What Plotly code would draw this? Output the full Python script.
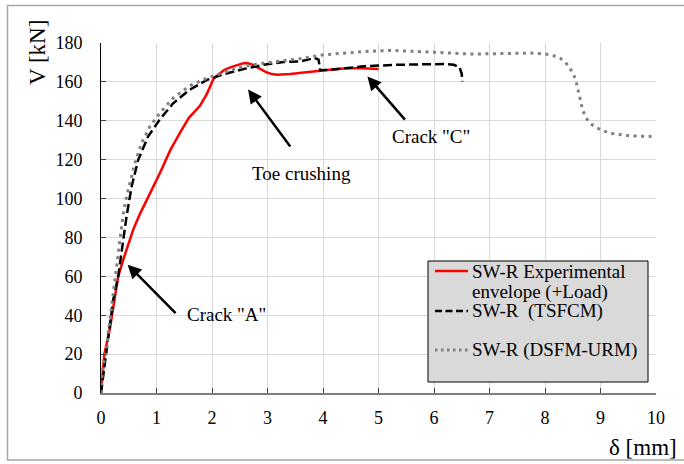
import plotly.graph_objects as go

# --- data -------------------------------------------------------------
exp_d = [0, 0.06, 0.16, 0.25, 0.31, 0.40, 0.48, 0.58, 0.70, 0.82, 0.94, 1.06, 1.25,
         1.42, 1.58, 1.79, 1.91, 2.03, 2.12, 2.21, 2.33, 2.45, 2.55, 2.63, 2.72,
         2.81, 2.90, 2.99, 3.08, 3.17, 3.41, 3.70, 3.95, 4.20, 4.43, 4.70, 5.00]
exp_v = [0, 20, 33, 48, 60, 68.5, 75, 84, 92, 99.4, 106, 113, 125,
         133.6, 141.4, 148, 154, 161.7, 164, 166, 167.5, 168.8, 169.5, 169.7, 169,
         167.6, 166, 164.8, 164, 163.7, 164, 165, 165.9, 166.5, 167, 167, 166.6]

tsfcm_d = [0, 0.10, 0.22, 0.31, 0.40, 0.46, 0.55, 0.67, 0.85, 1.06, 1.30, 1.60, 1.91,
           2.21, 2.57, 2.93, 3.29, 3.59, 3.85, 3.92, 3.95, 4.13, 4.40, 4.73, 5.33,
           5.93, 6.20, 6.36, 6.46, 6.50, 6.51]
tsfcm_v = [0, 22, 47.9, 60, 78.8, 90.7, 106, 119.9, 132, 140.7, 149, 156, 161,
           164, 166.6, 168.8, 170.2, 170.5, 172.3, 171.5, 166, 166.2, 167, 168, 168.8,
           169.3, 169.2, 168.8, 167.5, 164, 160.2]

dsfm_d = [0, 0.02, 0.10, 0.25, 0.34, 0.40, 0.46, 0.52, 0.61, 0.73, 0.88, 1.06, 1.30,
          1.60, 1.91, 2.21, 2.57, 2.93, 3.23, 3.60, 4.01, 4.40, 4.73, 5.21, 5.60,
          6.05, 6.66, 7.20, 7.74, 8.01, 8.15, 8.27, 8.37, 8.45, 8.52, 8.56, 8.62,
          8.68, 8.74, 8.82, 8.92, 9.16, 9.55, 10.0]
dsfm_v = [0, 10, 23.8, 58, 78, 92, 101, 108, 118, 128.5, 137, 144, 151.7,
          158, 162, 164.8, 168, 169.6, 170.5, 172, 173.9, 175, 175.6, 176.2, 175.8,
          175.2, 174.3, 174.5, 174.8, 174.3, 173.5, 172.2, 170, 167, 163.5, 160.2, 152.5,
          145.3, 141.4, 138.5, 136.5, 133.6, 132.2, 131.9]

x_ticks = list(range(0, 11))
y_ticks = list(range(0, 181, 20))

legend_labels = ["SW-R Experimental", "envelope (+Load)", "SW-R\u00a0 (TSFCM)", "SW-R (DSFM-URM)"]

FONT = "Liberation Serif"
W, H = 684, 464
ML, MR, MT, MB = 101, 28, 43, 71
PW, PH = W - ML - MR, H - MT - MB


def px(p):
    return (p - ML) / PW


def py(p):
    return (H - MB - p) / PH


fig = go.Figure()
fig.add_trace(go.Scatter(x=exp_d, y=exp_v, mode="lines",
                         line=dict(color="#ff0000", width=2.5), showlegend=False))
fig.add_trace(go.Scatter(x=tsfcm_d, y=tsfcm_v, mode="lines",
                         line=dict(color="#000000", width=2.5, dash="9px,4px"), showlegend=False))
fig.add_trace(go.Scatter(x=dsfm_d, y=dsfm_v, mode="lines",
                         line=dict(color="#808080", width=3, dash="3px,4.5px"), showlegend=False))

axis_common = dict(showgrid=True, gridcolor="#d9d9d9", gridwidth=1, zeroline=False,
                   ticks="inside", ticklen=5, tickcolor="#404040", showline=True,
                   tickfont=dict(family=FONT, size=18, color="black"))

fig.update_layout(
    width=W, height=H,
    margin=dict(l=ML, r=MR, t=MT, b=MB),
    paper_bgcolor="white", plot_bgcolor="white",
    font=dict(family=FONT, color="black"),
    xaxis=dict(range=[0, 10], tickvals=x_ticks, linecolor="#7f7f7f", linewidth=1.5,
               ticklabelstandoff=8, **axis_common),
    yaxis=dict(range=[0, 180], tickvals=y_ticks, linecolor="#000000", linewidth=1,
               ticklabelstandoff=14, **axis_common),
    showlegend=False,
)

annotations = []
# axis titles
annotations.append(dict(text="V [kN]", xref="paper", yref="paper", x=px(37), y=py(53),
                        textangle=-90, showarrow=False, xanchor="center", yanchor="middle",
                        font=dict(family=FONT, size=23, color="black")))
annotations.append(dict(text="δ [mm]", xref="paper", yref="paper", x=px(643), y=py(447),
                        showarrow=False, xanchor="center", yanchor="middle",
                        font=dict(family=FONT, size=23, color="black")))

# callout arrows (head at x,y; tail at ax,ay)
arrows = [
    (0.48, 66, 1.37, 40.3),
    (2.65, 156.1, 3.43, 126.0),
    (4.80, 162.8, 5.50, 139.8),
]
for hx, hy, tx, ty in arrows:
    annotations.append(dict(x=hx, y=hy, ax=tx, ay=ty, xref="x", yref="y", axref="x", ayref="y",
                            text="", showarrow=True, arrowhead=2, arrowsize=1.1,
                            arrowwidth=2.5, arrowcolor="black", standoff=0, startstandoff=0))

labels = [
    ("Crack \"A\"", 2.27, 40.3),
    ("Toe crushing", 3.62, 112.8),
    ("Crack \"C\"", 5.94, 132.0),
]
for t, lx, ly in labels:
    annotations.append(dict(text=t, x=lx, y=ly, xref="x", yref="y", showarrow=False,
                            xanchor="center", yanchor="middle",
                            font=dict(family=FONT, size=19, color="black")))

# legend box
shapes = [
    dict(type="rect", xref="paper", yref="paper", x0=px(428), x1=px(648), y0=py(382), y1=py(261),
         fillcolor="#d9d9d9", line=dict(color="black", width=1), layer="above"),
    dict(type="line", xref="paper", yref="paper", x0=px(435), x1=px(468), y0=py(271), y1=py(271),
         line=dict(color="#ff0000", width=2.5), layer="above"),
    dict(type="line", xref="paper", yref="paper", x0=px(435), x1=px(468), y0=py(311), y1=py(311),
         line=dict(color="black", width=2.5, dash="7px,3.5px"), layer="above"),
    dict(type="line", xref="paper", yref="paper", x0=px(435), x1=px(468), y0=py(350), y1=py(350),
         line=dict(color="#808080", width=3, dash="2.5px,3.5px"), layer="above"),
    # outer frame
    dict(type="rect", xref="paper", yref="paper", x0=px(7.5), x1=px(700), y0=py(460), y1=py(5.5),
         line=dict(color="#a6a6a6", width=1.5), fillcolor="rgba(0,0,0,0)", layer="above"),
]
for t, ypix in zip(legend_labels, [271, 292, 311, 350]):
    annotations.append(dict(text=t, xref="paper", yref="paper", x=px(470), y=py(ypix),
                            showarrow=False, xanchor="left", yanchor="middle",
                            font=dict(family=FONT, size=19, color="black")))

fig.update_layout(annotations=annotations, shapes=shapes)
fig.write_html("out.html")
